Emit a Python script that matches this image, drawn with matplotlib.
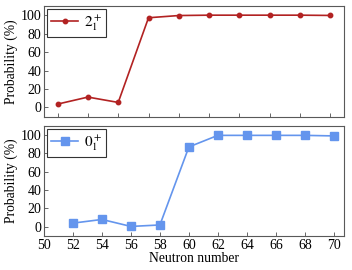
import numpy as np
import matplotlib
matplotlib.use('Agg')
from matplotlib import pyplot as plt

# data
n_top = [52, 54, 56, 58, 60, 62, 64, 66, 68, 70]
p_2plus = [3.6, 11.2, 5.4, 97.2, 99.6, 100.0, 100.0, 100.0, 100.0, 99.7]

n_bot = [52, 54, 56, 58, 60, 62, 64, 66, 68, 70]
p_0plus = [4.0, 8.0, 0.4, 2.0, 87.0, 99.6, 99.6, 99.6, 99.6, 99.0]

plt.rcParams['font.family'] = 'serif'
plt.rcParams['font.serif'] = ['Liberation Serif', 'DejaVu Serif']
plt.rcParams['mathtext.fontset'] = 'stix'
plt.rcParams['font.size'] = 9.5

fig = plt.figure(figsize=(3.52, 2.70), dpi=100)
ax1 = fig.add_axes([0.125, 0.568, 0.852, 0.410])
ax2 = fig.add_axes([0.125, 0.126, 0.852, 0.408])

ax1.plot(n_top, p_2plus, '-o', color='#b22222', lw=1.2, ms=3.2, label=r'$2_1^+$')
ax2.plot(n_bot, p_0plus, '-s', color='#6495ed', lw=1.2, ms=5.5, label=r'$0_1^+$')

for ax in (ax1, ax2):
    ax.set_ylim(-10, 110)
    ax.set_yticks(np.arange(0, 101, 20))
    ax.set_ylabel('Probability (%)', fontsize=9.8)
    ax.tick_params(which='both', direction='in', length=3, width=0.6,
                   color='0.3', labelsize=10, pad=2)
    for sp in ax.spines.values():
        sp.set_color('0.35')
        sp.set_linewidth(0.8)
    leg = ax.legend(loc='upper left', fontsize=11, fancybox=False,
                    edgecolor='0.2', framealpha=1, handlelength=1.8,
                    borderpad=0.25, borderaxespad=0.2, handletextpad=0.4)
    leg.get_frame().set_linewidth(0.8)

ax1.set_xticks(n_top)
ax1.set_xticklabels([])
ax2.set_xlim(50, 70.7)
ax2.set_xticks(np.arange(50, 71, 2))
ax2.set_xlabel('Neutron number', fontsize=9.8, labelpad=0)
ax1.yaxis.set_label_coords(-0.088, 0.5)
ax2.yaxis.set_label_coords(-0.088, 0.5)

fig.savefig('out.png', dpi=100)
